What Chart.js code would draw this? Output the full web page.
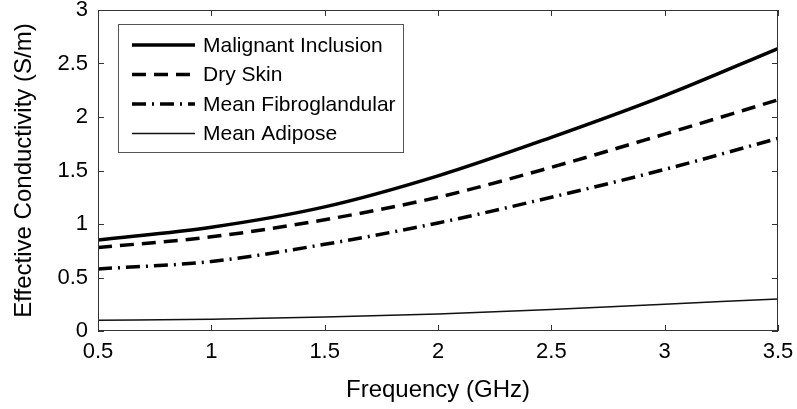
<!DOCTYPE html>
<html>
<head>
<meta charset="utf-8">
<script src="https://cdn.jsdelivr.net/npm/chart.js@4.4.0/dist/chart.umd.min.js"></script>
<style>
  html, body { margin: 0; padding: 0; background: #fff; }
  #wrap { width: 797px; height: 409px; }
</style>
</head>
<body>
<div id="wrap"><canvas id="myChart" width="797" height="409"></canvas></div>
<script>
var frequency = [0.5, 1, 1.5, 2, 2.5, 3, 3.5];
var malignant = [0.85, 0.97, 1.16, 1.45, 1.81, 2.20, 2.64];
var drySkin = [0.78, 0.88, 1.04, 1.25, 1.53, 1.84, 2.16];
var fibroglandular = [0.58, 0.65, 0.81, 1.01, 1.25, 1.51, 1.80];
var adipose = [0.10, 0.11, 0.13, 0.16, 0.20, 0.25, 0.30];
var seriesNames = ['Malignant Inclusion', 'Dry Skin', 'Mean Fibroglandular', 'Mean Adipose'];

var fontFamily = '"Liberation Sans", Arial, Helvetica, sans-serif';

function points(ys) {
    return frequency.map(function (x, i) { return { x: x, y: ys[i] }; });
}

// MATLAB style labels: 1 not 1.0
function plainLabel(value) {
    return String(Math.round(value * 10) / 10);
}

// frame with inward ticks on all four sides
var framePlugin = {
    id: 'frame',
    afterDatasetsDraw: function (chart) {
        var c = chart.ctx, a = chart.chartArea;
        var xs = chart.scales.x, ys = chart.scales.y;
        c.save();
        c.strokeStyle = '#333';
        c.lineWidth = 1;
        c.strokeRect(a.left + 0.5, a.top + 0.5, a.right - a.left - 1, a.bottom - a.top - 1);
        c.beginPath();
        xs.ticks.forEach(function (t) {
            var px = Math.round(xs.getPixelForValue(t.value)) + 0.5;
            c.moveTo(px, a.bottom); c.lineTo(px, a.bottom - 6);
            c.moveTo(px, a.top); c.lineTo(px, a.top + 6);
        });
        ys.ticks.forEach(function (t) {
            var py = Math.round(ys.getPixelForValue(t.value)) + 0.5;
            c.moveTo(a.left, py); c.lineTo(a.left + 6, py);
            c.moveTo(a.right, py); c.lineTo(a.right - 6, py);
        });
        c.stroke();
        c.restore();
    }
};

// legend box inside the plot
var legendPlugin = {
    id: 'innerLegend',
    afterDraw: function (chart) {
        var c = chart.ctx;
        var bx = 118, by = 24, bw = 285, bh = 128;
        c.save();
        c.fillStyle = '#fff';
        c.fillRect(bx, by, bw, bh);
        c.strokeStyle = '#555';
        c.lineWidth = 1;
        c.strokeRect(bx + 0.5, by + 0.5, bw, bh);
        chart.data.datasets.forEach(function (ds, i) {
            var y = 45 + i * 29.5;
            c.beginPath();
            c.setLineDash(ds.borderDash || []);
            c.lineWidth = ds.borderWidth;
            c.strokeStyle = ds.borderColor;
            c.moveTo(132, y);
            c.lineTo(195, y);
            c.stroke();
            c.setLineDash([]);
            c.fillStyle = '#000';
            c.font = '21px ' + fontFamily;
            c.textBaseline = 'middle';
            c.fillText(ds.label, 203, y + 1);
        });
        c.restore();
    }
};

var ctx = document.getElementById('myChart').getContext('2d');
var myChart = new Chart(ctx, {
    type: 'line',
    data: {
        datasets: [{
            label: seriesNames[0],
            data: points(malignant),
            borderColor: '#000',
            borderWidth: 3.5
        }, {
            label: seriesNames[1],
            data: points(drySkin),
            borderColor: '#000',
            borderWidth: 3.5,
            borderDash: [14, 8]
        }, {
            label: seriesNames[2],
            data: points(fibroglandular),
            borderColor: '#000',
            borderWidth: 3.5,
            borderDash: [14, 6, 2, 6]
        }, {
            label: seriesNames[3],
            data: points(adipose),
            borderColor: '#111',
            borderWidth: 1.5
        }]
    },
    options: {
        responsive: false,
        animation: false,
        layout: { padding: { left: 6, top: 10, right: 19, bottom: 0 } },
        elements: {
            point: { radius: 0 },
            line: { cubicInterpolationMode: 'monotone', fill: false }
        },
        plugins: {
            legend: { display: false },
            tooltip: { enabled: false }
        },
        scales: {
            x: {
                type: 'linear',
                min: 0.5,
                max: 3.5,
                ticks: {
                    stepSize: 0.5,
                    color: '#000',
                    padding: 8,
                    maxRotation: 0,
                    font: { family: fontFamily, size: 22 },
                    callback: plainLabel
                },
                grid: { display: false, drawTicks: false },
                border: { display: false },
                title: {
                    display: true,
                    text: 'Frequency (GHz)',
                    color: '#000',
                    padding: { top: 10 },
                    font: { family: fontFamily, size: 24 }
                },
                afterFit: function (scale) {
                    scale.height = 78;
                    scale.paddingLeft = 0;
                    scale.paddingRight = 0;
                }
            },
            y: {
                min: 0,
                max: 3,
                ticks: {
                    stepSize: 0.5,
                    color: '#000',
                    padding: 10,
                    font: { family: fontFamily, size: 22 },
                    callback: plainLabel
                },
                grid: { display: false, drawTicks: false },
                border: { display: false },
                title: {
                    display: true,
                    text: 'Effective Conductivity (S/m)',
                    color: '#000',
                    padding: { bottom: 2 },
                    font: { family: fontFamily, size: 24 }
                },
                afterFit: function (scale) {
                    scale.width = 92;
                    scale.paddingTop = 0;
                    scale.paddingBottom = 0;
                }
            }
        }
    },
    plugins: [framePlugin, legendPlugin]
});
</script>
</body>
</html>
